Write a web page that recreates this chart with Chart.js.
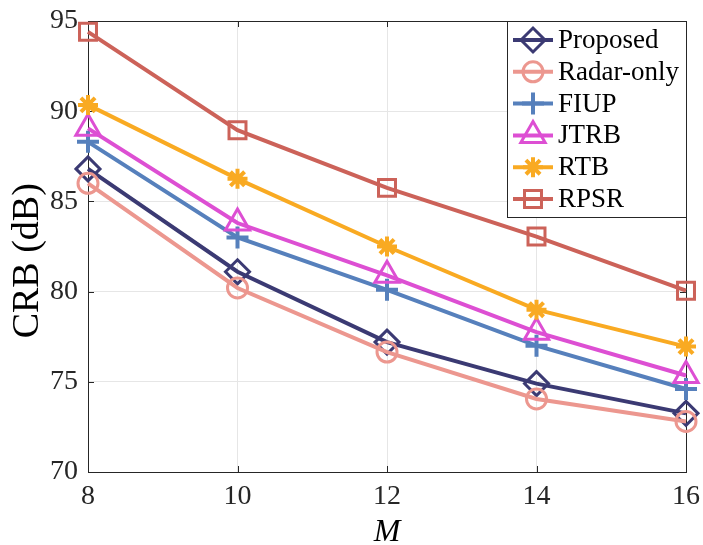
<!DOCTYPE html>
<html>
<head>
<meta charset="utf-8">
<script src="https://cdn.jsdelivr.net/npm/chart.js@4.4.1/dist/chart.umd.min.js"></script>
<style>
	html, body { margin: 0; padding: 0; background: #fff; }
	#wrap { width: 703px; height: 545px; }
</style>
</head>
<body>
<div id="wrap"><canvas id="crb-chart" width="703" height="545"></canvas></div>
<script>
const mValues = [8, 10, 12, 14, 16]
const seriesNames = ['Proposed', 'Radar-only', 'FIUP', 'JTRB', 'RTB', 'RPSR']
const proposed = [86.8, 81.1, 77.2, 74.9, 73.25]
const radarOnly = [86.0, 80.2, 76.65, 74.05, 72.8]
const fiup = [88.3, 83.0, 80.1, 77.0, 74.6]
const jtrb = [89.05, 83.8, 80.9, 77.75, 75.35]
const rtb = [90.35, 86.25, 82.5, 79.0, 76.95]
const rpsr = [94.4, 88.95, 85.75, 83.05, 80.05]
const yTicks = [70, 75, 80, 85, 90, 95]
const xTicks = [8, 10, 12, 14, 16]

const seriesValues = [proposed, radarOnly, fiup, jtrb, rtb, rpsr]
const seriesColors = ['#3b3a73', '#ec978f', '#5680bc', '#dd4fd3', '#f9aa22', '#cc6259']
const seriesMarkers = ['rectRot', 'circle', 'cross', 'triangle', 'star', 'rect']
const markerSizes = [12, 10, 11, 14, 10, 12]
const markerWidths = [3, 3, 4, 3, 4, 3]

const serif = "'Liberation Serif', 'Times New Roman', serif"

function markPoint(ctx, style, radius, x, y) {
	Chart.helpers.drawPoint(ctx, { pointStyle: style, radius: radius, rotation: 0, borderWidth: ctx.lineWidth }, x, y)
}

const boxAndTicks = {
	id: 'boxAndTicks',
	beforeDatasetsDraw(chart) {
		const { ctx, chartArea: a, scales } = chart
		ctx.save()
		ctx.strokeStyle = '#262626'
		ctx.lineWidth = 1
		ctx.beginPath()
		xTicks.forEach(v => {
			const px = Math.round(scales.x.getPixelForValue(v)) + 0.5
			ctx.moveTo(px, a.bottom)
			ctx.lineTo(px, a.bottom - 6)
			ctx.moveTo(px, a.top)
			ctx.lineTo(px, a.top + 6)
		})
		yTicks.forEach(v => {
			const py = Math.round(scales.y.getPixelForValue(v)) + 0.5
			ctx.moveTo(a.left, py)
			ctx.lineTo(a.left + 6, py)
			ctx.moveTo(a.right, py)
			ctx.lineTo(a.right - 6, py)
		})
		ctx.stroke()
		ctx.strokeRect(Math.round(a.left) + 0.5, Math.round(a.top) + 0.5, Math.round(a.right - a.left), Math.round(a.bottom - a.top))
		ctx.restore()
	},
}

const boxLegend = {
	id: 'boxLegend',
	afterDraw(chart) {
		const { ctx, chartArea: a } = chart
		const left = a.right - 179
		const top = a.top
		const w = 179
		const h = 196
		ctx.save()
		ctx.fillStyle = '#fff'
		ctx.fillRect(left, top, w, h)
		ctx.strokeStyle = '#262626'
		ctx.lineWidth = 1
		ctx.strokeRect(Math.round(left) + 0.5, Math.round(top) + 0.5, w, h)
		chart.data.datasets.forEach((ds, i) => {
			const cy = top + 19 + i * 31.8
			ctx.strokeStyle = ds.borderColor
			ctx.lineWidth = 4
			ctx.beginPath()
			ctx.moveTo(left + 6, cy)
			ctx.lineTo(left + 46, cy)
			ctx.stroke()
			ctx.lineWidth = ds.pointBorderWidth
			ctx.fillStyle = 'rgba(0,0,0,0)'
			markPoint(ctx, ds.pointStyle, ds.pointRadius, left + 26, cy)
			ctx.fillStyle = '#000'
			ctx.font = '27px ' + serif
			ctx.textBaseline = 'middle'
			ctx.textAlign = 'left'
			ctx.fillText(ds.label, left + 51, cy + 1)
		})
		ctx.restore()
	},
}

const datasets = seriesNames.map((name, i) => ({
	label: name,
	data: mValues.map((m, j) => ({ x: m, y: seriesValues[i][j] })),
	borderColor: seriesColors[i],
	backgroundColor: 'rgba(0,0,0,0)',
	borderWidth: 4,
	pointStyle: seriesMarkers[i],
	pointRadius: markerSizes[i],
	pointBorderWidth: markerWidths[i],
	pointBorderColor: seriesColors[i],
	pointBackgroundColor: 'rgba(0,0,0,0)',
	tension: 0,
	clip: false,
	order: seriesNames.length - i,
}))

new Chart(document.getElementById('crb-chart'), {
	type: 'line',
	data: { datasets },
	options: {
		responsive: false,
		animation: false,
		devicePixelRatio: 1,
		layout: { padding: { top: 21, right: 17, left: 0, bottom: 0 } },
		plugins: {
			legend: { display: false },
			tooltip: { enabled: false },
		},
		scales: {
			x: {
				type: 'linear',
				min: 8,
				max: 16,
				afterBuildTicks: s => { s.ticks = xTicks.map(v => ({ value: v })) },
				afterFit: s => {
					s.height = 73
					s.paddingLeft = 0
					s.paddingRight = 0
				},
				grid: { color: '#e6e6e6', lineWidth: 1, drawTicks: false },
				border: { display: false },
				ticks: { color: '#262626', padding: 8, font: { family: serif, size: 28 } },
				title: {
					display: true,
					text: 'M',
					color: '#000',
					padding: 0,
					font: { family: serif, size: 32, style: 'italic', lineHeight: 0.75 },
				},
			},
			y: {
				min: 70,
				max: 95,
				afterBuildTicks: s => { s.ticks = yTicks.map(v => ({ value: v })) },
				afterFit: s => {
					s.width = 88
					s.paddingTop = 0
					s.paddingBottom = 0
				},
				grid: { color: '#e6e6e6', lineWidth: 1, drawTicks: false },
				border: { display: false },
				ticks: { color: '#262626', padding: 10, font: { family: serif, size: 28 } },
				title: {
					display: true,
					// trailing spaces push the rotated text down a little, like the original
					text: 'CRB (dB)\u00a0\u00a0\u00a0',
					color: '#000',
					padding: { top: 9, bottom: 0 },
					font: { family: serif, size: 38, lineHeight: 1 },
				},
			},
		},
	},
	plugins: [boxAndTicks, boxLegend],
})
</script>
</body>
</html>
